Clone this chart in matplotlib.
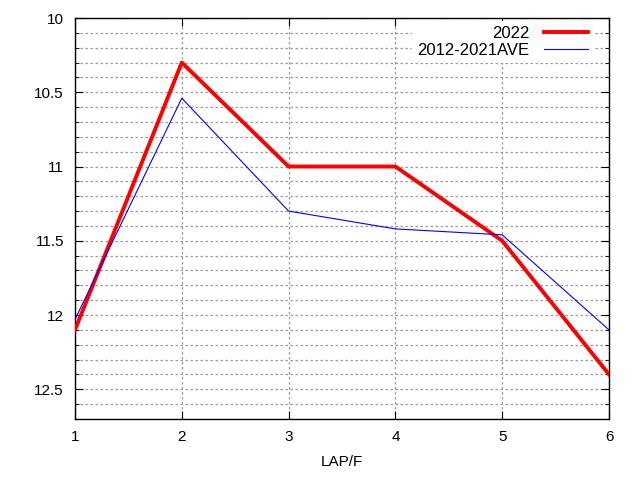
import matplotlib

matplotlib.use("Agg")
import matplotlib.pyplot as plt
from matplotlib.ticker import MultipleLocator

laps = [1, 2, 3, 4, 5, 6]
y2022 = [12.1, 10.3, 11.0, 11.0, 11.5, 12.4]
yave = [12.03, 10.54, 11.3, 11.42, 11.46, 12.1]

plt.rcParams["font.family"] = ["Liberation Sans", "DejaVu Sans"]

fig = plt.figure(figsize=(6.4, 4.8), dpi=100)
ax = fig.add_axes([75 / 640, 61 / 480, 534 / 640, 401 / 480])

ax.plot(laps, y2022, color="#ff0000", lw=2.8, label="2022", zorder=3)
ax.plot(laps, yave, color="#0000ff", lw=0.8, label="2012-2021AVE", zorder=3)

ax.set_xlim(1, 6)
ax.set_ylim(12.7, 10)
ax.xaxis.set_major_locator(MultipleLocator(1))
ax.yaxis.set_major_locator(MultipleLocator(0.5))
ax.yaxis.set_minor_locator(MultipleLocator(0.1))
ax.yaxis.set_major_formatter(plt.FuncFormatter(lambda v, p: f"{v:g}"))
ax.tick_params(which="both", direction="in", top=True, right=True, labelsize=11, pad=8)
ax.tick_params(which="major", length=6)
ax.tick_params(which="minor", length=3)
ax.grid(True, which="both", axis="y", color="#999999", ls=(0, (2, 2)), lw=0.9)
ax.grid(True, which="major", axis="x", color="#999999", ls=(0, (2, 2)), lw=0.9)
for s in ax.spines.values():
    s.set_linewidth(1.0)
ax.set_xlabel("LAP/F", fontsize=11, labelpad=8)

leg = ax.legend(loc="upper right", bbox_to_anchor=(0.974, 1.0), frameon=True,
                markerfirst=False, fontsize=12, handlelength=2.6, handletextpad=0.9,
                borderaxespad=0.15, labelspacing=0.15, fancybox=False, framealpha=1,
                edgecolor="none", borderpad=0.3)
leg.set_zorder(5)

fig.savefig("out.png", dpi=100)
